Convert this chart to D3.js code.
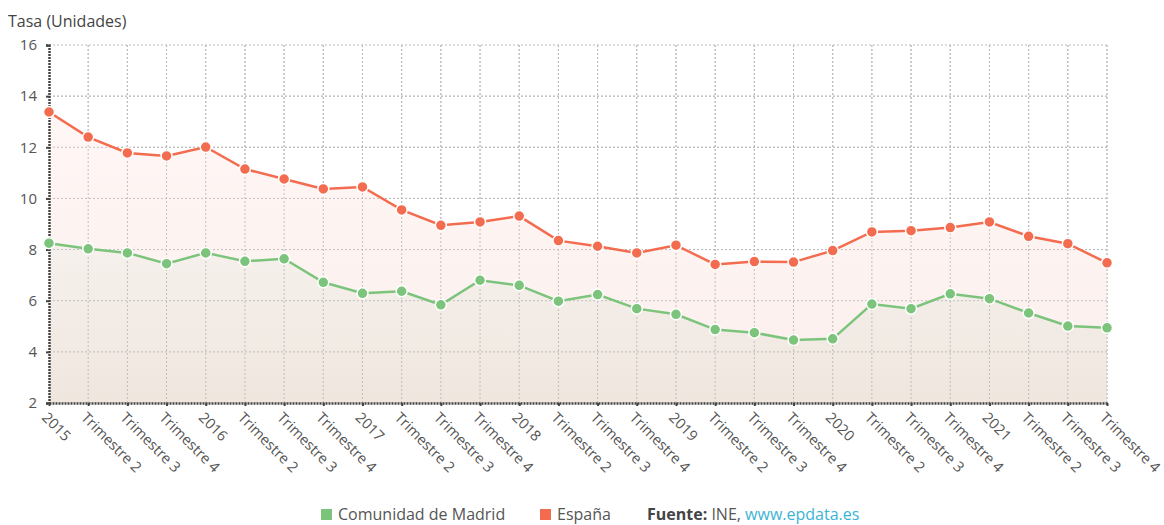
<!DOCTYPE html>
<html lang="es">
<head>
<meta charset="UTF-8">
<script src="https://d3js.org/d3.v7.min.js"></script>
<style>
  body { margin: 0; background: #fff; font-family: "Open Sans", sans-serif; }
  .grid line { stroke: #bbb; stroke-dasharray: 2,2; }
  .axis text { fill: #555; font-size: 15px; font-family: "Open Sans", sans-serif; }
</style>
</head>
<body>
<script>
const w = 1164;
const h = 525;
const margin = { top: 45, right: 57, bottom: 122, left: 49 };

const labels = [
  "2015", "Trimestre 2", "Trimestre 3", "Trimestre 4",
  "2016", "Trimestre 2", "Trimestre 3", "Trimestre 4",
  "2017", "Trimestre 2", "Trimestre 3", "Trimestre 4",
  "2018", "Trimestre 2", "Trimestre 3", "Trimestre 4",
  "2019", "Trimestre 2", "Trimestre 3", "Trimestre 4",
  "2020", "Trimestre 2", "Trimestre 3", "Trimestre 4",
  "2021", "Trimestre 2", "Trimestre 3", "Trimestre 4"
];

const espana = [13.38, 12.40, 11.78, 11.66, 12.01, 11.15, 10.76, 10.37, 10.45, 9.55,
  8.95, 9.08, 9.31, 8.35, 8.13, 7.87, 8.17, 7.42, 7.53, 7.51,
  7.96, 8.69, 8.74, 8.86, 9.08, 8.52, 8.23, 7.48];

const madrid = [8.25, 8.03, 7.87, 7.45, 7.87, 7.54, 7.64, 6.72, 6.29, 6.37,
  5.84, 6.80, 6.60, 5.98, 6.24, 5.69, 5.47, 4.87, 4.75, 4.46,
  4.51, 5.87, 5.69, 6.27, 6.08, 5.52, 5.01, 4.94];

const yTicks = [2, 4, 6, 8, 10, 12, 14, 16];

const red = "#f36c4f";
const green = "#7cc47c";

const svg = d3.select("body").append("svg")
  .attr("width", w)
  .attr("height", h);

const defs = svg.append("defs");
const gRed = defs.append("linearGradient").attr("id", "gradRed")
  .attr("gradientUnits", "userSpaceOnUse")
  .attr("x1", 0).attr("y1", 100).attr("x2", 0).attr("y2", h - margin.bottom);
gRed.append("stop").attr("offset", "0%").attr("stop-color", "#fff7f6");
gRed.append("stop").attr("offset", "100%").attr("stop-color", "#fbefec");

const gGreen = defs.append("linearGradient").attr("id", "gradGreen")
  .attr("gradientUnits", "userSpaceOnUse")
  .attr("x1", 0).attr("y1", 240).attr("x2", 0).attr("y2", h - margin.bottom);
gGreen.append("stop").attr("offset", "0%").attr("stop-color", "#f6f1ed");
gGreen.append("stop").attr("offset", "100%").attr("stop-color", "#efe6de");

const x = d3.scalePoint()
  .domain(d3.range(labels.length))
  .range([margin.left, w - margin.right]);

const y = d3.scaleLinear()
  .domain([2, 16])
  .range([h - margin.bottom, margin.top]);

// grid
const grid = svg.append("g").attr("class", "grid");
grid.selectAll(".h").data(yTicks.slice(1)).enter().append("line")
  .attr("x1", margin.left).attr("x2", w - margin.right)
  .attr("y1", d => y(d)).attr("y2", d => y(d));
grid.selectAll(".v").data(d3.range(1, labels.length)).enter().append("line")
  .attr("x1", d => x(d)).attr("x2", d => x(d))
  .attr("y1", margin.top).attr("y2", h - margin.bottom);

// areas
const area = vals => d3.area()
  .x((d, i) => x(i))
  .y0(y(2))
  .y1(d => y(d))(vals);

svg.append("path").attr("d", area(espana)).attr("fill", "url(#gradRed)");
svg.append("path").attr("d", area(madrid)).attr("fill", "url(#gradGreen)");

// grid again over the fills
const grid2 = svg.append("g").attr("class", "grid").attr("opacity", 0.9);
grid2.selectAll(".h").data(yTicks.slice(1, -1)).enter().append("line")
  .attr("x1", margin.left).attr("x2", w - margin.right)
  .attr("y1", d => y(d)).attr("y2", d => y(d));
grid2.selectAll(".v").data(d3.range(1, labels.length)).enter().append("line")
  .attr("x1", d => x(d)).attr("x2", d => x(d))
  .attr("y1", margin.top).attr("y2", h - margin.bottom);

// axes
const yAxis = svg.append("g").attr("class", "axis")
  .attr("transform", `translate(${margin.left},0)`)
  .call(d3.axisLeft(y).tickValues(yTicks).tickSize(3).tickPadding(9));
yAxis.select(".domain").attr("stroke", "#444").attr("stroke-width", 2.5).attr("stroke-dasharray", "2,1");
yAxis.selectAll(".tick line").attr("stroke", "#444").attr("stroke-width", 2);

const xAxis = svg.append("g").attr("class", "axis")
  .attr("transform", `translate(0,${h - margin.bottom})`)
  .call(d3.axisBottom(x).tickFormat(i => labels[i]).tickSize(3).tickSizeOuter(0));
xAxis.select(".domain").attr("stroke", "#444").attr("stroke-width", 2.5).attr("stroke-dasharray", "2,1");
xAxis.selectAll(".tick line").attr("stroke", "#444").attr("stroke-width", 2);
xAxis.selectAll(".tick text")
  .attr("text-anchor", "start")
  .style("font-size", "14.6px")
  .attr("transform", "translate(2,5) rotate(45)")
  .attr("dy", "0.6em");

// lines + points
const line = d3.line().x((d, i) => x(i)).y(d => y(d));

[[madrid, green], [espana, red]].forEach(([vals, col]) => {
  svg.append("path").attr("d", line(vals))
    .attr("fill", "none").attr("stroke", col).attr("stroke-width", 2.5);
  svg.append("g").selectAll("circle").data(vals).enter().append("circle")
    .attr("cx", (d, i) => x(i)).attr("cy", d => y(d))
    .attr("r", 5.5)
    .attr("fill", col).attr("stroke", "#fff").attr("stroke-width", 1.5);
});

// axis title
svg.append("text").attr("x", 8).attr("y", 27)
  .attr("fill", "#444").style("font-size", "16px")
  .text("Tasa (Unidades)");

// legend
const leg = svg.append("g").style("font-size", "16px");
leg.append("rect").attr("x", 321).attr("y", 509).attr("width", 11).attr("height", 11).attr("fill", green);
leg.append("text").attr("x", 338).attr("y", 520).attr("fill", "#555").text("Comunidad de Madrid");
leg.append("rect").attr("x", 540).attr("y", 509).attr("width", 11).attr("height", 11).attr("fill", red);
leg.append("text").attr("x", 557).attr("y", 520).attr("fill", "#555").text("España");
const src = leg.append("text").attr("x", 647).attr("y", 520).attr("fill", "#444");
src.append("tspan").attr("font-weight", "bold").text("Fuente:");
src.append("tspan").attr("fill", "#555").text(" INE, ");
src.append("tspan").attr("fill", "#3bb4d4").text("www.epdata.es");
</script>
</body>
</html>
